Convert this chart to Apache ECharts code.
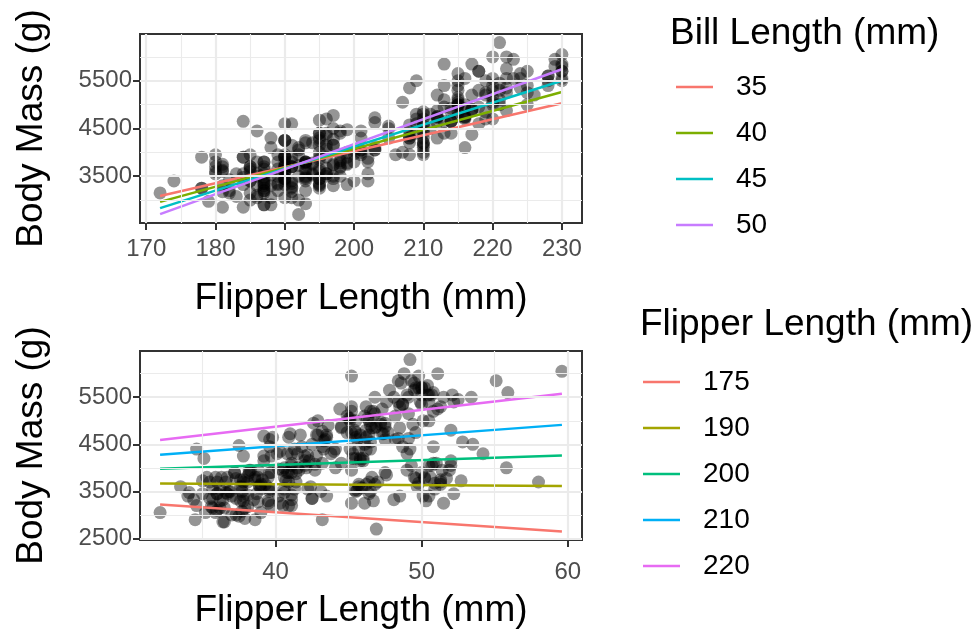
<!DOCTYPE html>
<html>
<head>
<meta charset="UTF-8">
<title>Body mass interactions</title>
<style>
    html, body { margin: 0; padding: 0; background: #ffffff; }
    #main { width: 976px; height: 630px; }
</style>
</head>
<body>
<div id="main"></div>

<script src="https://cdn.jsdelivr.net/npm/echarts@6/dist/echarts.min.js"></script>
<script>
    // penguins, one entry per point (bill length, flipper length, body mass)
    var billLength = [
        // Adelie
        39.1,39.5,40.3,36.7,39.3,38.9,39.2,34.1,42.0,37.8,
        37.8,41.1,38.6,34.6,36.6,38.7,42.5,34.4,46.0,37.8,
        37.7,35.9,38.2,38.8,35.3,40.6,40.5,37.9,40.5,39.5,
        37.2,39.5,40.9,36.4,39.2,38.8,42.2,37.6,39.8,36.5,
        40.8,36.0,44.1,37.0,39.6,41.1,37.5,36.0,42.3,39.6,
        40.1,35.0,42.0,34.5,41.4,39.0,40.6,36.5,37.6,35.7,
        41.3,37.6,41.1,36.4,41.6,35.5,41.1,35.9,41.8,33.5,
        39.7,39.6,45.8,35.5,42.8,40.9,37.2,36.2,42.1,34.6,
        42.9,36.7,35.1,37.3,41.3,36.3,36.9,38.3,38.9,35.7,
        41.1,34.0,39.6,36.2,40.8,38.1,40.3,43.2,35.0,41.0,
        37.7,37.8,37.9,39.7,38.6,38.2,38.1,43.2,38.1,45.6,
        39.7,42.2,39.6,42.7,38.6,37.3,35.7,41.1,36.2,37.7,
        41.4,35.2,40.6,38.8,41.5,39.0,44.1,38.5,43.1,36.8,
        37.5,38.1,41.1,35.6,40.2,37.0,39.7,40.2,40.6,32.1,
        40.7,37.3,39.0,39.2,36.6,36.0,37.8,36.0,41.5,
        // Gentoo
        46.1,50.0,48.7,50.0,47.6,46.5,45.4,46.7,43.3,46.8,
        40.9,49.0,45.5,48.4,45.8,49.3,42.0,49.2,46.2,48.7,
        50.2,45.1,46.5,46.3,42.9,46.1,44.5,47.8,48.2,50.0,
        47.3,42.8,45.1,59.6,49.1,48.4,42.6,44.4,44.0,48.7,
        42.7,49.6,45.3,49.6,50.5,43.6,45.5,50.5,44.9,45.2,
        46.6,48.5,45.1,50.1,46.5,45.0,43.8,45.5,43.2,50.4,
        45.3,46.2,45.7,45.8,49.8,46.2,49.5,43.5,50.7,47.7,
        46.4,48.2,46.5,46.4,48.6,47.5,51.1,45.2,45.2,49.1,
        52.5,47.4,50.0,44.9,50.8,43.4,51.3,47.5,52.1,47.5,
        52.2,45.5,49.5,44.5,50.8,49.4,46.9,48.4,51.1,48.5,
        55.9,47.2,49.1,47.3,46.8,41.7,53.4,43.3,48.1,50.5,
        49.8,43.5,51.5,46.2,55.1,44.5,48.8,47.2,46.8,50.4,
        45.2,49.9,
        // Chinstrap
        46.5,50.0,51.3,45.4,52.7,45.2,46.1,51.3,46.0,51.3,
        46.6,51.7,47.0,52.0,45.9,50.5,50.3,58.0,46.4,49.2,
        42.4,48.5,43.2,50.6,46.7,52.0,50.5,49.5,46.4,52.8,
        40.9,54.2,42.5,51.0,49.7,47.5,47.6,52.0,46.9,53.5,
        49.0,46.2,50.9,45.5,50.9,50.8,50.1,49.0,51.5,49.8,
        48.1,51.4,45.7,50.7,42.5,52.2,45.2,49.3,50.2,45.6,
        51.9,46.8,45.7,55.8,43.5,49.6,50.8,50.2
    ];

    var flipperLength = [
        // Adelie
        181,186,195,193,190,181,195,193,190,186,
        180,182,191,198,185,195,197,184,194,174,
        180,189,185,180,187,183,187,172,180,178,
        178,188,184,195,196,190,180,181,184,182,
        195,186,196,185,190,182,179,190,191,186,
        188,190,200,187,191,186,193,181,194,185,
        195,185,192,184,192,195,188,190,198,190,
        190,196,197,190,195,191,184,187,195,189,
        196,187,193,191,194,190,189,189,190,202,
        205,185,186,187,208,190,196,192,192,203,
        183,190,193,184,199,190,181,197,198,191,
        193,197,191,196,188,199,189,189,187,198,
        202,186,199,191,195,191,210,190,197,193,
        199,187,190,191,200,185,193,193,187,188,
        190,192,185,190,184,195,193,187,201,
        // Gentoo
        211,230,210,218,215,210,211,219,209,215,
        214,216,214,213,210,217,210,221,209,222,
        218,215,213,215,215,215,216,215,210,220,
        222,209,207,230,220,220,213,219,208,208,
        208,225,210,216,222,217,210,225,213,215,
        210,220,210,225,217,220,208,220,208,224,
        208,221,214,219,230,214,229,220,223,216,
        221,221,217,216,230,209,220,215,223,212,
        221,212,224,212,228,218,218,212,230,218,
        228,212,224,214,226,216,222,203,225,219,
        228,215,228,216,215,210,219,208,209,216,
        229,213,230,217,230,217,222,214,215,222,
        212,213,
        // Chinstrap
        192,196,193,188,197,198,178,197,195,198,
        193,194,185,201,190,201,197,181,190,195,
        181,191,187,193,195,197,200,200,191,205,
        187,201,187,203,195,199,195,210,192,205,
        210,187,196,196,196,201,190,212,187,198,
        199,201,193,203,187,197,191,203,202,194,
        206,189,195,207,202,193,210,198
    ];

    var bodyMass = [
        // Adelie
        3750,3800,3250,3450,3650,3625,4675,3475,4250,3300,
        3700,3200,3800,4400,3700,3450,4500,3325,4200,3400,
        3600,3800,3950,3800,3800,3550,3200,3150,3950,3250,
        3900,3300,3900,3325,4150,3950,3550,3300,4650,3150,
        3900,3100,4400,3000,4600,3425,2975,3450,4150,3500,
        4300,3450,4050,2900,3700,3550,3800,2850,3750,3150,
        4400,3600,4050,2850,3950,3350,4100,3050,4450,3600,
        3900,3550,4150,3700,4250,3700,3900,3550,4000,3200,
        4700,3800,4200,3350,3550,3800,3500,3950,3600,3550,
        4300,3400,4450,3300,4300,3700,4350,4100,3725,4725,
        3075,4250,2925,3550,3750,3900,3175,4775,3825,4600,
        3200,4275,3900,4075,2900,3775,3350,3325,3150,3500,
        3875,3050,4000,3275,4300,3050,4000,3325,3500,3500,
        4475,3425,3900,3175,3975,3400,4250,3400,3475,3050,
        3725,3000,3650,4250,3475,3450,3750,3700,4000,
        // Gentoo
        4500,5700,4450,5700,5400,4550,4800,5200,4400,5150,
        4650,5550,4650,5850,4200,5850,4150,6300,4800,5350,
        5700,5000,4400,5050,5000,5100,4100,5650,4600,5550,
        5250,4700,5050,6050,5150,5400,4950,5250,4350,5350,
        3950,5700,4300,4750,5550,4900,4200,5400,5100,5300,
        4850,5300,4400,5000,4900,5050,4300,5000,4450,5550,
        4200,5300,4400,4700,5700,4650,5800,4700,5550,4750,
        5000,5100,5200,4700,5800,4600,6000,4750,5950,4625,
        5450,4725,5350,4750,5600,4600,5300,4875,5550,4950,
        5400,4750,5650,4850,5200,4925,4875,4625,5250,4850,
        5600,4975,5500,4725,5500,4700,5500,4575,5500,5000,
        5950,4650,5500,4375,5850,4875,6000,4925,4850,5750,
        5200,5400,
        // Chinstrap
        3500,3900,3650,3525,3725,3950,3250,3750,4150,3700,
        3800,3775,3700,4050,3575,4050,3300,3700,3450,4400,
        3600,3400,2900,3800,3300,4150,3400,3800,3700,4550,
        3200,4300,3350,4100,3600,3900,3850,4800,2700,4500,
        3950,3650,3550,3500,3675,4450,3400,4300,3250,3675,
        3325,3950,3600,4050,3350,3450,3250,4050,3800,3525,
        3950,3650,3650,4000,3400,3775,4100,3775
    ];

    // fitted lines, top plot: one per bill length, read at flipper 172 and 230
    var billLevels = ['35', '40', '45', '50'];
    var billColors = ['#F8766D', '#7CAE00', '#00BFC4', '#C77CFF'];
    var topLineX = [172, 230];
    var topLineStart = [3086, 2962, 2831, 2707];
    var topLineEnd = [5030, 5266, 5500, 5742];

    // fitted lines, bottom plot: one per flipper length, read at bill 32.1 and 59.6
    var flipperLevels = ['175', '190', '200', '210', '220'];
    var flipperColors = ['#F8766D', '#A3A500', '#00BF7D', '#00B0F6', '#E76BF3'];
    var bottomLineX = [32.1, 59.6];
    var bottomLineStart = [3220, 3670, 3980, 4281, 4590];
    var bottomLineEnd = [2650, 3614, 4260, 4913, 5572];

    // ticks
    var topXTicks = [170, 180, 190, 200, 210, 220, 230];
    var topXMinor = [175, 185, 195, 205, 215, 225];
    var topYTicks = [3500, 4500, 5500];
    var topYMinor = [3000, 4000, 5000, 6000];
    var botXTicks = [40, 50, 60];
    var botXMinor = [35, 45, 55];
    var botYTicks = [2500, 3500, 4500, 5500];
    var botYMinor = [3000, 4000, 5000, 6000];

    var FONT = "'Liberation Sans', Arial, sans-serif";

    function pairs(xs, ys) {
        var out = [];
        for (var i = 0; i < xs.length; i++) out.push([xs[i], ys[i]]);
        return out;
    }

    // ggplot style panel grid drawn as mark lines
    function gridLines(idx, xMaj, xMin, yMaj, yMin) {
        var d = [];
        xMin.forEach(function (v) { d.push({ xAxis: v, lineStyle: { width: 1.1 } }); });
        yMin.forEach(function (v) { d.push({ yAxis: v, lineStyle: { width: 1.1 } }); });
        xMaj.forEach(function (v) { d.push({ xAxis: v, lineStyle: { width: 2.2 } }); });
        yMaj.forEach(function (v) { d.push({ yAxis: v, lineStyle: { width: 2.2 } }); });
        return {
            type: 'line', xAxisIndex: idx, yAxisIndex: idx, data: [], silent: true, z: 1,
            markLine: {
                silent: true, symbol: ['none', 'none'], label: { show: false },
                lineStyle: { color: '#EBEBEB', type: 'solid' },
                emphasis: { disabled: true },
                data: d
            }
        };
    }

    function plain(v) { return String(v); }

    function xAxisDef(idx, min, max, ticks, gap, labelMargin) {
        return {
            type: 'value', gridIndex: idx, min: min, max: max,
            name: 'Flipper Length (mm)', nameLocation: 'middle', nameGap: gap,
            nameTextStyle: { fontSize: 37, color: '#000', fontFamily: FONT },
            axisLine: { show: false },
            axisTick: { show: true, customValues: ticks, length: 7, lineStyle: { color: '#333333', width: 2 } },
            axisLabel: { customValues: ticks, formatter: plain, fontSize: 24, color: '#4D4D4D', margin: labelMargin, fontFamily: FONT },
            splitLine: { show: false }
        };
    }

    function yAxisDef(idx, min, max, ticks) {
        return {
            type: 'value', gridIndex: idx, min: min, max: max,
            name: 'Body Mass (g)', nameLocation: 'middle', nameGap: 90,
            nameTextStyle: { fontSize: 37, color: '#000', fontFamily: FONT },
            axisLine: { show: false },
            axisTick: { show: true, customValues: ticks, length: 7, lineStyle: { color: '#333333', width: 2 } },
            axisLabel: { customValues: ticks, formatter: plain, fontSize: 24, color: '#4D4D4D', margin: 8, fontFamily: FONT },
            splitLine: { show: false }
        };
    }

    var series = [
        gridLines(0, topXTicks, topXMinor, topYTicks, topYMinor),
        gridLines(1, botXTicks, botXMinor, botYTicks, botYMinor),
        {
            type: 'scatter', xAxisIndex: 0, yAxisIndex: 0, z: 3, silent: true,
            data: pairs(flipperLength, bodyMass),
            symbolSize: 13, itemStyle: { color: 'rgba(0,0,0,0.52)' }
        },
        {
            type: 'scatter', xAxisIndex: 1, yAxisIndex: 1, z: 3, silent: true,
            data: pairs(billLength, bodyMass),
            symbolSize: 13, itemStyle: { color: 'rgba(0,0,0,0.52)' }
        }
    ];

    billLevels.forEach(function (name, i) {
        series.push({
            type: 'line', name: name, xAxisIndex: 0, yAxisIndex: 0, z: 4, silent: true,
            data: [[topLineX[0], topLineStart[i]], [topLineX[1], topLineEnd[i]]],
            symbol: 'none', lineStyle: { width: 2.5, color: billColors[i] },
            itemStyle: { color: billColors[i] }
        });
    });
    flipperLevels.forEach(function (name, i) {
        series.push({
            type: 'line', name: name, xAxisIndex: 1, yAxisIndex: 1, z: 4, silent: true,
            data: [[bottomLineX[0], bottomLineStart[i]], [bottomLineX[1], bottomLineEnd[i]]],
            symbol: 'none', lineStyle: { width: 2.5, color: flipperColors[i] },
            itemStyle: { color: flipperColors[i] }
        });
    });

    function legendDef(names, left, top) {
        return {
            data: names, orient: 'vertical', left: left, top: top, padding: 0,
            icon: 'rect', itemWidth: 37, itemHeight: 2.5, itemGap: 16,
            selectedMode: false,
            textStyle: { fontSize: 28, lineHeight: 30, color: '#000', fontFamily: FONT, padding: [0, 0, 0, 18] }
        };
    }

    var myChart = echarts.init(document.getElementById('main'));
    var option = {
        animation: false,
        backgroundColor: '#ffffff',
        title: [
            { text: 'Bill Length (mm)', left: 670, top: 15, padding: 0,
              textStyle: { fontSize: 37, fontWeight: 'normal', color: '#000', fontFamily: FONT } },
            { text: 'Flipper Length (mm)', left: 640, top: 306, padding: 0,
              textStyle: { fontSize: 37, fontWeight: 'normal', color: '#000', fontFamily: FONT } }
        ],
        legend: [
            legendDef(billLevels, 676, 72),
            legendDef(flipperLevels, 643, 367)
        ],
        grid: [
            { left: 140, top: 34, width: 442, height: 189, show: true, borderColor: '#333333', borderWidth: 2, backgroundColor: '#fff' },
            { left: 140, top: 351, width: 442, height: 190, show: true, borderColor: '#333333', borderWidth: 2, backgroundColor: '#fff' }
        ],
        xAxis: [
            xAxisDef(0, 169.1, 232.9, topXTicks, 57, 14),
            xAxisDef(1, 30.725, 60.975, botXTicks, 52, 20)
        ],
        yAxis: [
            yAxisDef(0, 2520, 6480, topYTicks),
            yAxisDef(1, 2468, 6482, botYTicks)
        ],
        series: series
    };

    myChart.setOption(option);
</script>
</body>
</html>
